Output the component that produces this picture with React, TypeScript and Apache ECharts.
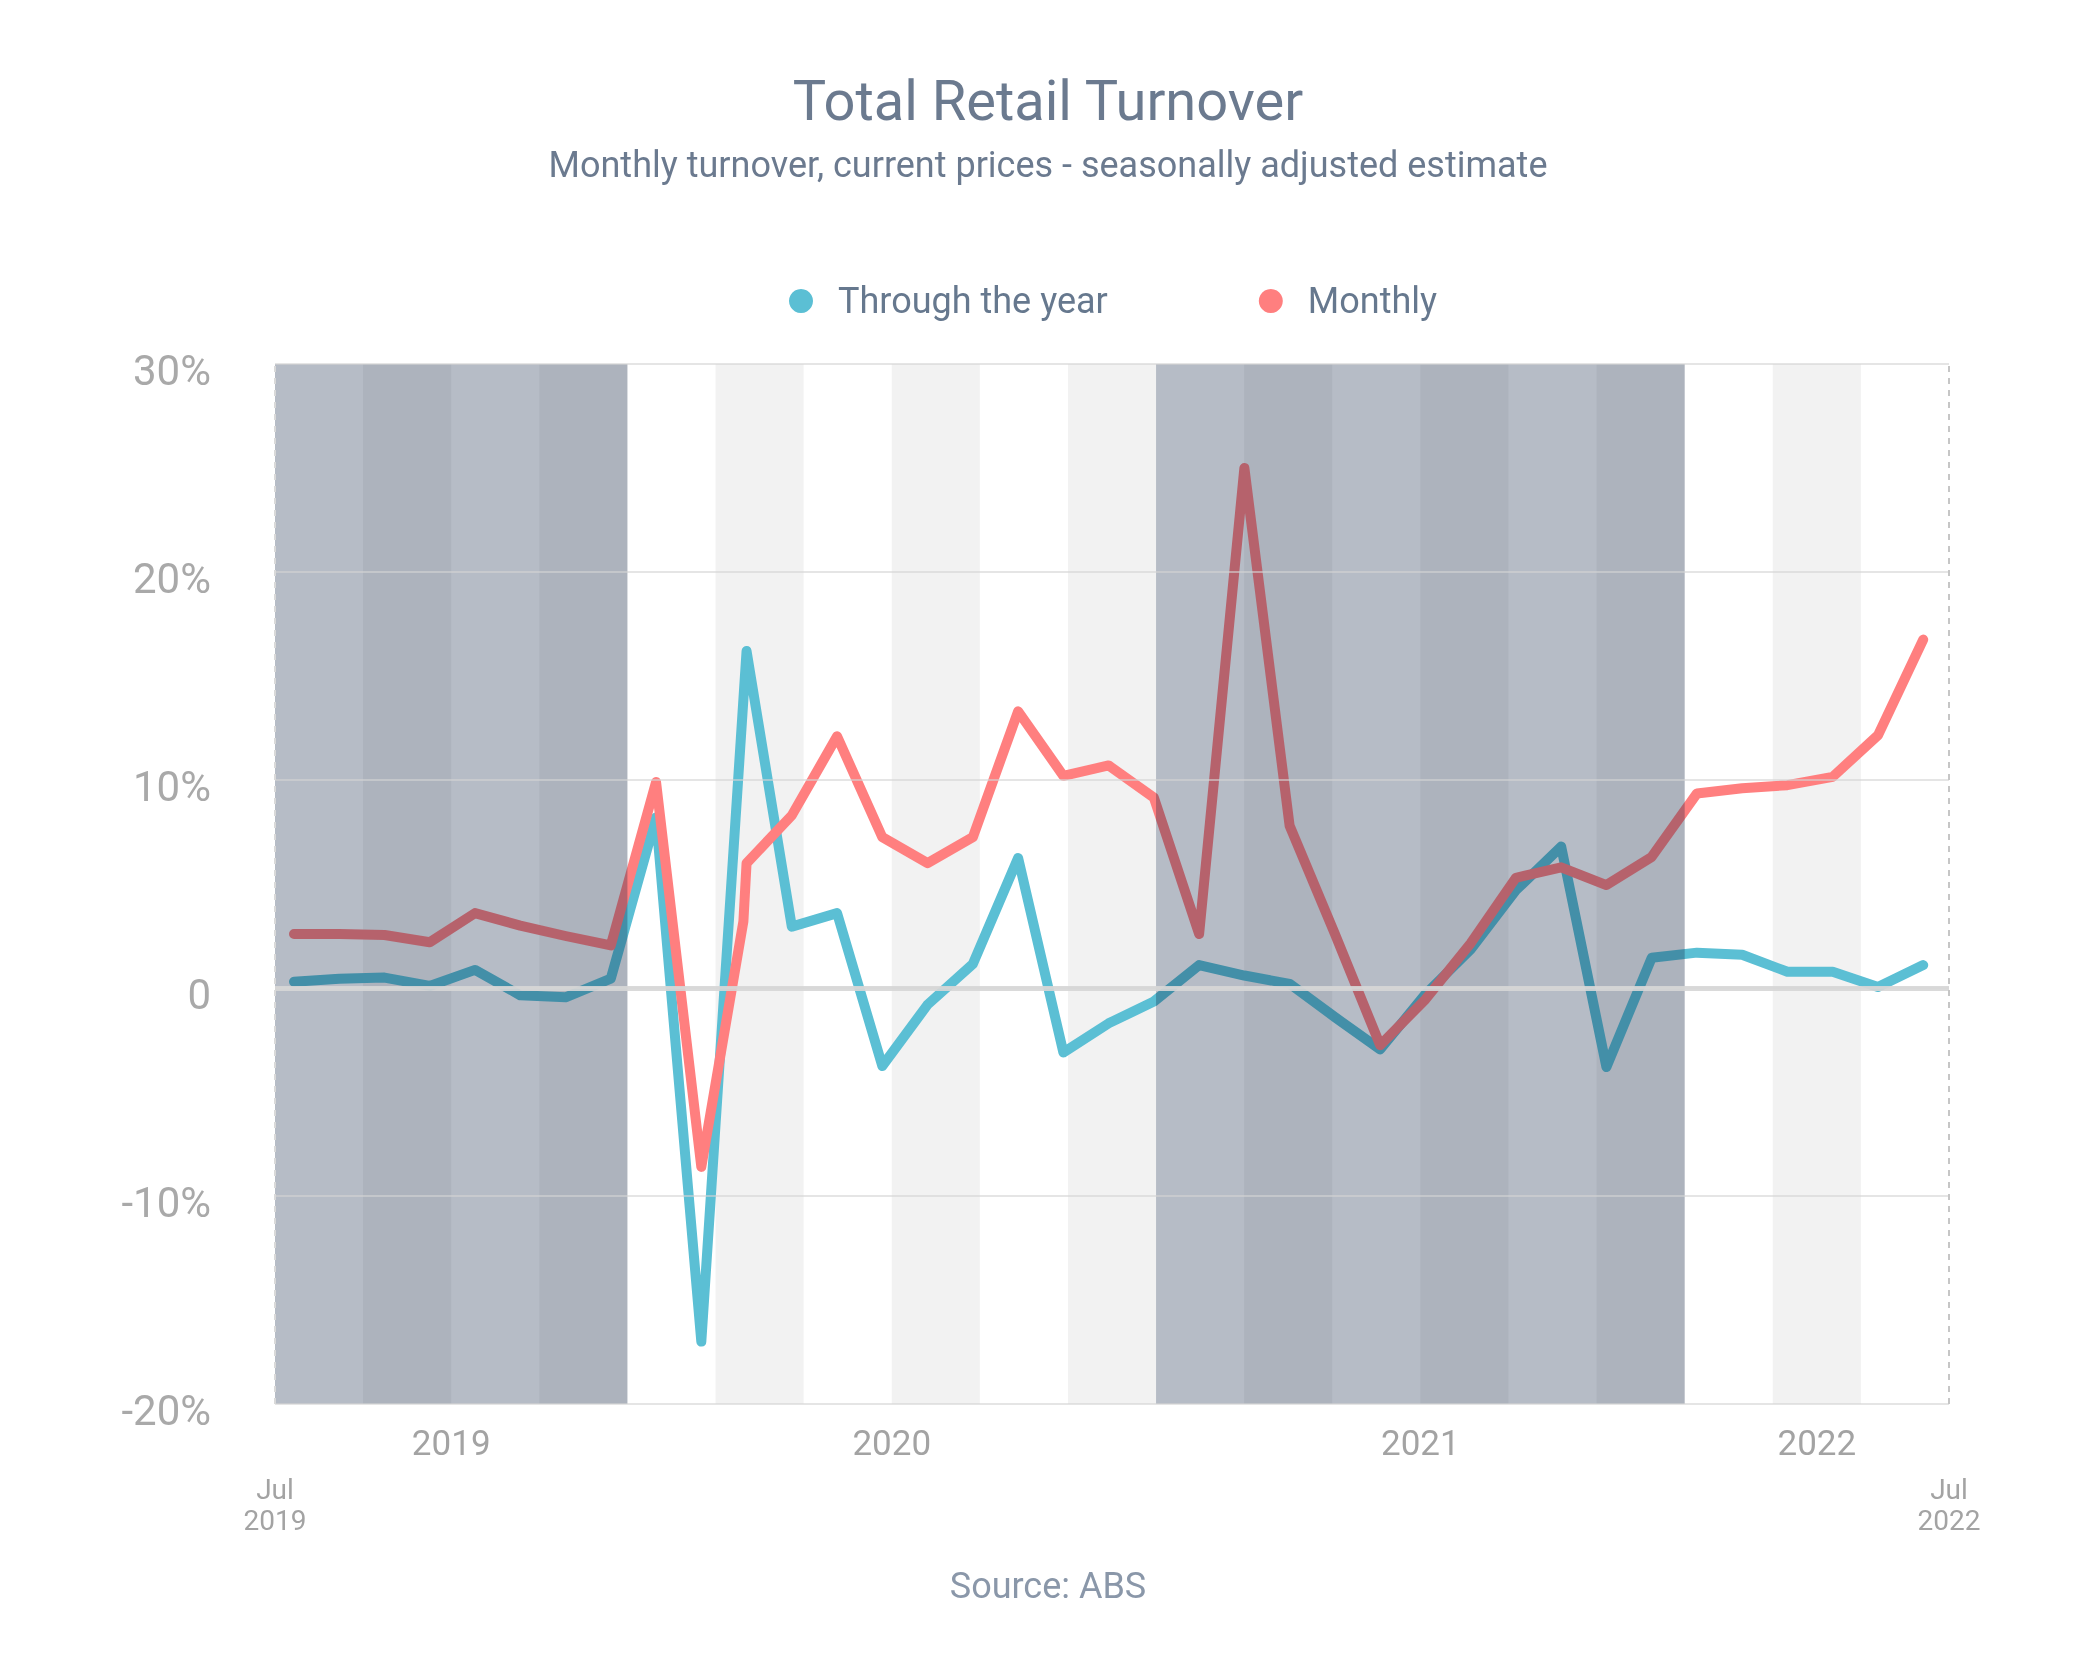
import React, { useEffect, useRef } from "react";
import * as echarts from "echarts";

// ---- data ----
const months = [
  "Jul 2019", "Aug 2019", "Sep 2019", "Oct 2019", "Nov 2019", "Dec 2019",
  "Jan 2020", "Feb 2020", "Mar 2020", "Apr 2020", "May 2020", "Jun 2020",
  "Jul 2020", "Aug 2020", "Sep 2020", "Oct 2020", "Nov 2020", "Dec 2020",
  "Jan 2021", "Feb 2021", "Mar 2021", "Apr 2021", "May 2021", "Jun 2021",
  "Jul 2021", "Aug 2021", "Sep 2021", "Oct 2021", "Nov 2021", "Dec 2021",
  "Jan 2022", "Feb 2022", "Mar 2022", "Apr 2022", "May 2022", "Jun 2022",
  "Jul 2022",
];
const throughTheYear = [
  0.3, 0.45, 0.5, 0.1, 0.87, -0.35, -0.45, 0.45, 8.2, -17.0, 16.2, 2.95,
  3.6, -3.75, -0.8, 1.15, 6.25, -3.1, -1.7, -0.65, 1.1, 0.6, 0.2, -1.4,
  -2.95, -0.3, 1.85, 4.7, 6.8, -3.8, 1.45, 1.7, 1.6, 0.78, 0.78, 0.05, 1.1,
];
const monthly = [
  2.6, 2.6, 2.55, 2.2, 3.6, 3.0, 2.5, 2.05, 9.9, -8.6, 6.0, 8.3,
  12.1, 7.25, 6.0, 7.25, 13.3, 10.2, 10.7, 9.15, 2.6, 25.0, 7.8, 2.6,
  -2.75, -0.55, 2.15, 5.3, 5.8, 4.95, 6.3, 9.35, 9.6, 9.75, 10.15, 12.15, 16.75,
];
// an extra intra-month observation in the monthly series (position in months from Jul 2019)
const monthlyExtraAt = [9.93];
const monthlyExtraValue = [3.2];

const yTicks = [-20, -10, 0, 10, 20, 30];
const yearLabels = ["2019", "2020", "2021", "2022"];
const yearLabelBands = [2, 7, 13, 17.5];
const endLabels = ["Jul\n2019", "Jul\n2022"];
const bandCount = 19;
const shadedBandRanges = [
  [0, 4],
  [10, 16],
];

const X_MIN = -0.42;
const X_MAX = 36.57;

const FONT = "Roboto";

export default function App() {
  const ref = useRef<HTMLDivElement>(null);

  useEffect(() => {
    if (!ref.current) return;
    const chart = echarts.init(ref.current, null, { renderer: "svg" });
    const bandW = (X_MAX - X_MIN) / bandCount;
    const edge = (k: number) => X_MIN + k * bandW;

    const altBands: any[] = [];
    for (let k = 1; k < bandCount; k += 2) {
      altBands.push([{ xAxis: edge(k) }, { xAxis: edge(k + 1) }]);
    }
    const shaded = shadedBandRanges.map(([a, b]) => [
      { xAxis: edge(a) },
      { xAxis: edge(b) },
    ]);
    const yearPos = yearLabelBands.map((b) => edge(b));

    const tyData = throughTheYear.map((v, i) => [i, v]);
    const mData: number[][] = monthly.map((v, i) => [i, v]);
    monthlyExtraAt.forEach((x, j) => mData.push([x, monthlyExtraValue[j]]));
    mData.sort((a, b) => a[0] - b[0]);

    const option: any = {
      animation: false,
      backgroundColor: "#ffffff",
      title: [
        {
          text: "Total Retail Turnover",
          left: 1048,
          textAlign: "center",
          top: 73,
          padding: 0,
          textStyle: {
            fontFamily: FONT,
            fontSize: 56,
            fontWeight: "normal",
            color: "#6b7a8f",
          },
        },
        {
          text: "Monthly turnover, current prices - seasonally adjusted estimate",
          left: 1048,
          textAlign: "center",
          top: 147,
          padding: 0,
          textStyle: {
            fontFamily: FONT,
            fontSize: 36,
            fontWeight: "normal",
            color: "#6b7a8f",
          },
        },
        {
          text: "Source: ABS",
          left: 1048,
          textAlign: "center",
          top: 1568,
          padding: 0,
          textStyle: {
            fontFamily: FONT,
            fontSize: 36,
            fontWeight: "normal",
            color: "#8a97a9",
          },
        },
      ],
      legend: {
        left: 789,
        top: 283,
        padding: 0,
        icon: "circle",
        itemWidth: 24,
        itemHeight: 24,
        itemGap: 151,
        textStyle: {
          fontFamily: FONT,
          fontSize: 36,
          color: "#66788e",
          padding: [0, 0, 0, 20],
        },
        data: ["Through the year", "Monthly"],
      },
      grid: { left: 275, right: 135, top: 364, bottom: 266 },
      xAxis: [
        {
          type: "value",
          min: X_MIN,
          max: X_MAX,
          axisLine: { show: false },
          axisTick: { show: false },
          splitLine: { show: false },
          axisLabel: {
            customValues: yearPos,
            margin: 22,
            fontFamily: FONT,
            fontSize: 35,
            color: "#a3a3a3",
            formatter: (v: number) => {
              const i = yearPos.findIndex((p) => Math.abs(p - v) < 1e-6);
              return i >= 0 ? yearLabels[i] : "";
            },
          },
        },
        {
          type: "value",
          min: X_MIN,
          max: X_MAX,
          position: "bottom",
          axisLine: { show: false },
          axisTick: { show: false },
          splitLine: { show: false },
          axisLabel: {
            customValues: [X_MIN, X_MAX],
            showMinLabel: true,
            showMaxLabel: true,
            margin: 70,
            fontFamily: FONT,
            fontSize: 28,
            lineHeight: 31,
            color: "#a3a3a3",
            formatter: (v: number) =>
              Math.abs(v - X_MIN) < 1e-6 ? endLabels[0] : endLabels[1],
          },
        },
      ],
      yAxis: {
        type: "value",
        min: -20,
        max: 30,
        interval: 10,
        z: 8,
        axisLine: { show: false },
        axisTick: { show: false },
        axisLabel: {
          margin: 64,
          fontFamily: FONT,
          fontSize: 42,
          color: "#a9a9a9",
          verticalAlign: "top",
          lineHeight: 12,
          formatter: (v: number) =>
            yTicks.includes(v) ? (v === 0 ? "0" : `${v}%`) : "",
        },
        splitLine: {
          show: true,
          lineStyle: { color: "rgba(212,212,212,0.6)", width: 2 },
        },
      },
      series: [
        {
          name: "bands",
          type: "line",
          data: [],
          silent: true,
          markArea: {
            silent: true,
            z: 1,
            itemStyle: { color: "#f2f2f2" },
            data: altBands,
          },
        },
        {
          name: "Through the year",
          type: "line",
          data: tyData,
          z: 3,
          showSymbol: false,
          symbol: "none",
          color: "#5bbfd4",
          lineStyle: { width: 10, color: "#5bbfd4", cap: "round", join: "round" },
        },
        {
          name: "Monthly",
          type: "line",
          data: mData,
          z: 3,
          showSymbol: false,
          symbol: "none",
          color: "#ff7f7f",
          lineStyle: { width: 10, color: "#ff7f7f", cap: "round", join: "round" },
        },
        {
          name: "overlay",
          type: "line",
          data: [],
          silent: true,
          markArea: {
            silent: true,
            z: 6,
            itemStyle: { color: "rgba(12,32,65,0.3)" },
            data: shaded,
          },
          markLine: {
            silent: true,
            z: 9,
            symbol: ["none", "none"],
            label: { show: false },
            data: [
              {
                yAxis: 0,
                lineStyle: { color: "rgba(214,214,214,0.9)", width: 5, type: "solid" },
              },
              {
                xAxis: X_MIN,
                lineStyle: { color: "#d9d9d9", width: 2, type: [6, 6] },
              },
              {
                xAxis: X_MAX,
                lineStyle: { color: "#c6c6c6", width: 2, type: [6, 6] },
              },
            ],
          },
        },
      ],
    };
    chart.setOption(option);

    const applyBlend = () => {
      if (!ref.current) return;
      ref.current.querySelectorAll("path").forEach((p) => {
        if (p.getAttribute("stroke-width") === "10") {
          (p as SVGElement).style.mixBlendMode = "multiply";
        }
      });
    };
    applyBlend();
    const t = setTimeout(applyBlend, 50);

    return () => {
      clearTimeout(t);
      chart.dispose();
    };
  }, []);

  return (
    <div
      ref={ref}
      style={{ position: "absolute", left: 0, top: 0, width: 2084, height: 1670 }}
    />
  );
}
